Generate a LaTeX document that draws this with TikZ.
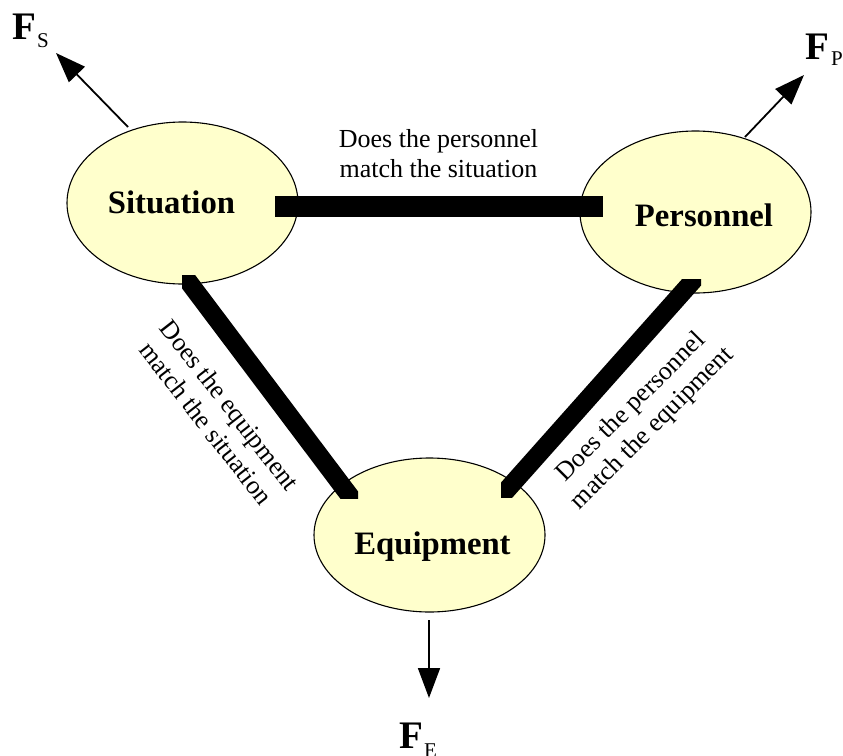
\documentclass[tikz,border=0pt]{standalone}
\usepackage{fontspec}
\setmainfont{Liberation Serif}
\usetikzlibrary{arrows.meta,shapes.geometric,calc}
\definecolor{ellfill}{RGB}{255,255,204}
\begin{document}
\begin{tikzpicture}[x=1pt,y=-1pt,
  ell/.style={ellipse, draw=black, line width=1.1pt, fill=ellfill, minimum width=231pt, minimum height=162pt, inner sep=0pt},
  lbl/.style={anchor=base, inner sep=0pt, font=\fontsize{32.7}{36}\selectfont\bfseries},
  bar/.style={line width=18.5pt, line cap=butt},
  qtext/.style={align=center, inner sep=0pt, font=\fontsize{26}{30}\selectfont},
  force/.style={-{Triangle[length=30pt,width=22pt]}, line width=1.8pt},
  flbl/.style={anchor=base west, inner sep=0pt}
]
\useasboundingbox (0,0) rectangle (843,755);

% ellipses
\node[ell] (sit) at (182.5,203) {};
\node[ell] (per) at (695.5,212) {};
\node[ell, minimum height=154pt] (equ) at (429.5,535) {};

\node[lbl] (sitt) at (171.5,213) {Situation};
\node[lbl] (pert) at (704,226) {Personnel};
\node[lbl] (equt) at (432.5,554) {Equipment};

% horizontal bar
\coordinate (h1) at (275,206.5);
\coordinate (h2) at (603,206.5);
\draw[line width=21pt] (h1) -- (h2);

% left diagonal bar
\coordinate (l1) at (183.5,275);
\coordinate (l2) at (351.4,498);
\begin{scope}
  \clip (182,275) rectangle (358,498);
  \draw[bar] ($(l1)!-0.1!(l2)$) -- ($(l1)!1.1!(l2)$);
\end{scope}

% right diagonal bar
\coordinate (r1) at (694.5,279);
\coordinate (r2) at (500.5,497);
\begin{scope}
  \clip (501,279) rectangle (701,497);
  \draw[bar] ($(r1)!-0.1!(r2)$) -- ($(r1)!1.1!(r2)$);
\end{scope}

% questions
\node[qtext] (q1) at (438.5,154) {Does the personnel\\match the situation};
\node[qtext, rotate=-52] (q2) at (218,414) {Does the equipment\\match the situation};
\node[qtext, rotate=45] (q3) at (642,418) {Does the personnel\\match the equipment};

% forces
\coordinate (fs0) at (128,127);
\coordinate (fs1) at (56,53);
\draw[force] (fs0) -- (fs1);
\coordinate (fp0) at (745,137);
\coordinate (fp1) at (804,75);
\draw[force] (fp0) -- (fp1);
\coordinate (fe0) at (429,620);
\coordinate (fe1) at (429,698);
\draw[force] (fe0) -- (fe1);

\node[flbl] (fsl) at (12,39) {\fontsize{39}{39}\selectfont\bfseries F\kern1pt\fontsize{21}{21}\selectfont\mdseries\raisebox{-8pt}{S}};
\node[flbl] (fpl) at (805,59) {\fontsize{39}{39}\selectfont\bfseries F\kern2pt\fontsize{21}{21}\selectfont\mdseries\raisebox{-6pt}{P}};
\node[flbl] (fel) at (399,748) {\fontsize{39}{39}\selectfont\bfseries F\kern1pt\fontsize{21}{21}\selectfont\mdseries\raisebox{-9pt}{E}};
\end{tikzpicture}
\end{document}
